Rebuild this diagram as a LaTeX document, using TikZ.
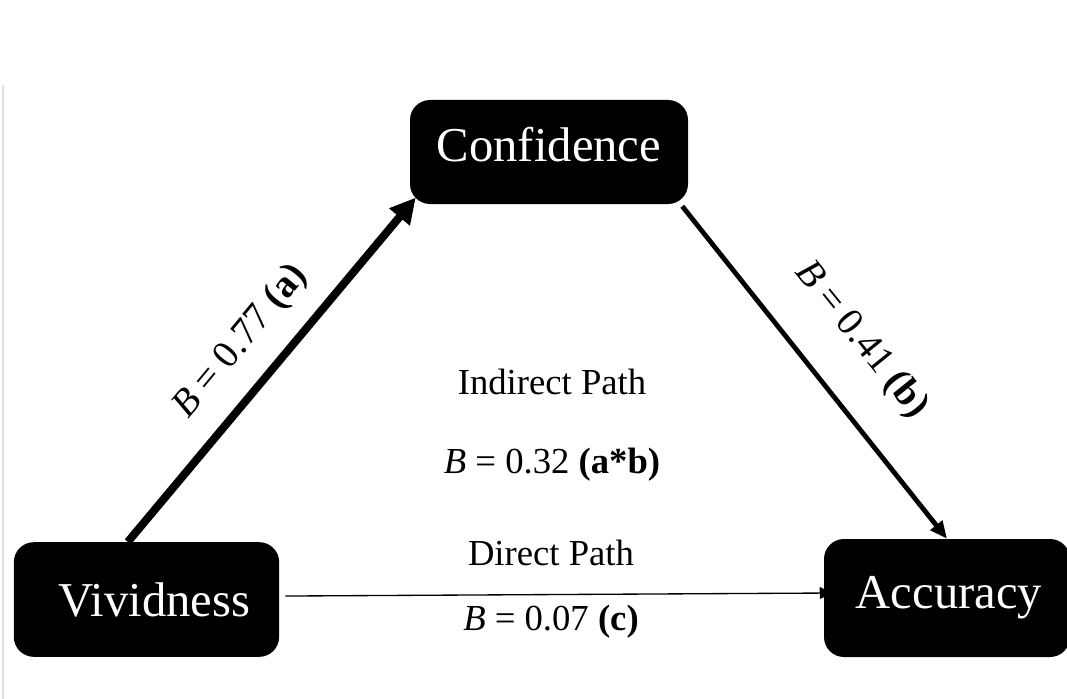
\documentclass[tikz,border=0pt]{standalone}
\usepackage{fontspec}
\setmainfont{Liberation Serif}
\usetikzlibrary{arrows.meta}
\tikzset{>=Triangle}
\tikzset{
	var/.style={fill=black, text=white, rounded corners=15pt, inner sep=0pt, font=\fontsize{36.5}{40}\selectfont},
	coef/.style={font=\fontsize{29}{34}\selectfont},
	path label/.style={font=\fontsize{27.5}{32}\selectfont}
}

\begin{document}
\begin{tikzpicture}[x=0.75pt, y=-0.75pt]

	\useasboundingbox (0,0) rectangle (1067,699);
	\draw[gray!25, line width=0.8pt] (3,85) -- (3,699);

	\node[var, minimum width=208.5pt, minimum height=78pt, text depth=11pt](conf) at (549,152) {Confidence};

	\node[var, minimum width=199pt, minimum height=86pt](viv) at (146.5,599.5) {\hspace*{12pt}Vividness};

	\node[var, minimum width=184.5pt, minimum height=88.5pt](acc) at (947,598) {\hspace*{3pt}Accuracy};

	% Descriptions

	\node[coef, rotate=50.3](a-lab) at (241,342) {\textit{B} = 0.77 \textbf{(a)}};

	\node[coef, rotate=-51.1](b-lab) at (861,340) {\textit{B} = 0.41 \textbf{(b)}};

	\node[path label](indirect) at (552,382) {Indirect Path};

	\node[path label](indirect-b) at (552,465) {\textit{B} = 0.32 \textbf{(a*b)}};

	\node[path label](direct) at (551,553) {Direct Path};

	\node[path label](direct-b) at (551,622) {\textit{B} = 0.07 \textbf{(c)}};

	% Arrows

	\draw [-{Triangle[length=19pt, width=19pt]}, line width=6pt] ([xshift=-14pt]viv.north) to ([xshift=4.5pt, yshift=5pt]conf.south west);

	\draw [-{Triangle[length=13pt, width=11pt]}, line width=3.6pt] ([xshift=-4.5pt, yshift=-1.5pt]conf.south east) to (acc.north);

	\draw [-{Triangle[length=9pt, width=9pt]}, line width=1pt] ([xshift=4.5pt, yshift=2.6pt]viv.east) to ([xshift=6pt, yshift=3.75pt]acc.west);

\end{tikzpicture}
\end{document}
